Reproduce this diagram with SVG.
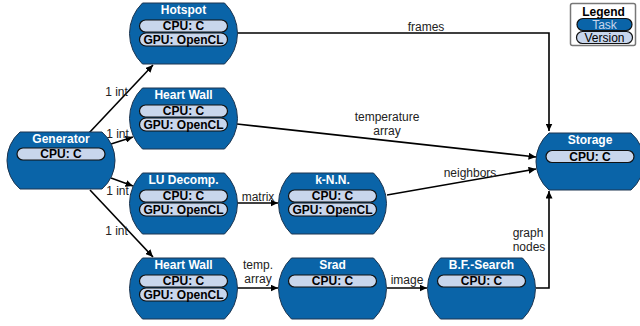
<svg xmlns="http://www.w3.org/2000/svg" width="640" height="326" viewBox="0 0 640 326">
<defs>
<marker id="arr" markerUnits="userSpaceOnUse" markerWidth="8" markerHeight="7" refX="7.5" refY="3.5" orient="auto">
<path d="M0,0 L7.5,3.5 L0,7 z" fill="#000"/>
</marker>
<style>
.node{fill:#0a64a8;stroke:#1c3550;stroke-width:1}
.pill{fill:#c8d6ec;stroke:#111;stroke-width:1.2}
.title{font-family:"Liberation Sans",Arial,sans-serif;font-size:12px;font-weight:bold;fill:#fff;text-anchor:middle}
.ver{font-family:"Liberation Sans",Arial,sans-serif;font-size:12px;font-weight:bold;fill:#000;text-anchor:middle}
.edge{fill:none;stroke:#000;stroke-width:1.6;marker-end:url(#arr)}
.lbl{font-family:"Liberation Sans",Arial,sans-serif;font-size:12px;fill:#222;text-anchor:middle}
</style>
</defs>
<rect width="640" height="326" fill="#fff"/>

<g id="connectors">
<path class="edge" d="M89,133 L153,65"/>
<path class="edge" d="M111,144 L133,137"/>
<path class="edge" d="M111,178 L133,186"/>
<path class="edge" d="M90,190 L153,257"/>
<path class="edge" d="M237,33 H549 V131"/>
<path class="edge" d="M237,124 L536,157"/>
<path class="edge" d="M387,195 L536,169"/>
<path class="edge" d="M237,203 L278,203"/>
<path class="edge" d="M237,288 L278,288"/>
<path class="edge" d="M387,288 L427,288"/>
<path class="edge" d="M536,288 H549 V191"/>
<text class="lbl" x="116.5" y="96">1 int</text>
<text class="lbl" x="117.5" y="138">1 int</text>
<text class="lbl" x="117.5" y="195">1 int</text>
<text class="lbl" x="116.5" y="235">1 int</text>
<text class="lbl" x="426" y="31">frames</text>
<text class="lbl" x="387" y="121">temperature</text>
<text class="lbl" x="387" y="135">array</text>
<text class="lbl" x="470" y="177">neighbors</text>
<text class="lbl" x="258" y="201">matrix</text>
<text class="lbl" x="258" y="269">temp.</text>
<text class="lbl" x="258" y="283">array</text>
<text class="lbl" x="407" y="284">image</text>
<text class="lbl" x="528" y="237">graph</text>
<text class="lbl" x="529" y="251">nodes</text>
</g>

<g id="hotspot">
<path class="node" d="M142.5,3 H224.5 A42.3,42.3 0 0 1 224.5,64 H142.5 A42.3,42.3 0 0 1 142.5,3 Z"/>
<text class="title" x="183.5" y="13.5">Hotspot</text>
<rect class="pill" x="139.5" y="20" width="88" height="12" rx="6"/>
<text class="ver" x="183.5" y="30">CPU: C</text>
<rect class="pill" x="139.5" y="33" width="88" height="13" rx="6.5"/>
<text class="ver" x="183.5" y="43.5">GPU: OpenCL</text>
</g>

<g id="heartwall1">
<path class="node" d="M142.5,88 H224.5 A42.3,42.3 0 0 1 224.5,149 H142.5 A42.3,42.3 0 0 1 142.5,88 Z"/>
<text class="title" x="183.5" y="98.5">Heart Wall</text>
<rect class="pill" x="139.5" y="105" width="88" height="12" rx="6"/>
<text class="ver" x="183.5" y="115">CPU: C</text>
<rect class="pill" x="139.5" y="118" width="88" height="13" rx="6.5"/>
<text class="ver" x="183.5" y="128.5">GPU: OpenCL</text>
</g>

<g id="generator">
<path class="node" d="M20,132 H102 A37.7,37.7 0 0 1 102,189 H20 A37.7,37.7 0 0 1 20,132 Z"/>
<text class="title" x="61" y="142.5">Generator</text>
<rect class="pill" x="17" y="148" width="88" height="12" rx="6"/>
<text class="ver" x="61" y="158">CPU: C</text>
</g>

<g id="ludecomp">
<path class="node" d="M142.5,173 H224.5 A42.3,42.3 0 0 1 224.5,234 H142.5 A42.3,42.3 0 0 1 142.5,173 Z"/>
<text class="title" x="183.5" y="183.5">LU Decomp.</text>
<rect class="pill" x="139.5" y="190" width="88" height="12" rx="6"/>
<text class="ver" x="183.5" y="200">CPU: C</text>
<rect class="pill" x="139.5" y="203" width="88" height="13" rx="6.5"/>
<text class="ver" x="183.5" y="213.5">GPU: OpenCL</text>
</g>

<g id="knn">
<path class="node" d="M291.5,173 H373.5 A42.3,42.3 0 0 1 373.5,234 H291.5 A42.3,42.3 0 0 1 291.5,173 Z"/>
<text class="title" x="332.5" y="183.5">k-N.N.</text>
<rect class="pill" x="288.5" y="190" width="88" height="12" rx="6"/>
<text class="ver" x="332.5" y="200">CPU: C</text>
<rect class="pill" x="288.5" y="203" width="88" height="13" rx="6.5"/>
<text class="ver" x="332.5" y="213.5">GPU: OpenCL</text>
</g>

<g id="heartwall2">
<path class="node" d="M142.5,258 H224.5 A42.3,42.3 0 0 1 224.5,319 H142.5 A42.3,42.3 0 0 1 142.5,258 Z"/>
<text class="title" x="183.5" y="268.5">Heart Wall</text>
<rect class="pill" x="139.5" y="275" width="88" height="12" rx="6"/>
<text class="ver" x="183.5" y="285">CPU: C</text>
<rect class="pill" x="139.5" y="288" width="88" height="13" rx="6.5"/>
<text class="ver" x="183.5" y="298.5">GPU: OpenCL</text>
</g>

<g id="srad">
<path class="node" d="M291.5,258 H373.5 A42.3,42.3 0 0 1 373.5,319 H291.5 A42.3,42.3 0 0 1 291.5,258 Z"/>
<text class="title" x="332.5" y="268.5">Srad</text>
<rect class="pill" x="288.5" y="275" width="88" height="12" rx="6"/>
<text class="ver" x="332.5" y="285">CPU: C</text>
</g>

<g id="bfsearch">
<path class="node" d="M440.5,258 H522.5 A42.3,42.3 0 0 1 522.5,319 H440.5 A42.3,42.3 0 0 1 440.5,258 Z"/>
<text class="title" x="481.5" y="268.5">B.F.-Search</text>
<rect class="pill" x="437.5" y="275" width="88" height="12" rx="6"/>
<text class="ver" x="481.5" y="285">CPU: C</text>
</g>

<g id="storage">
<path class="node" d="M549,133 H631 A37.7,37.7 0 0 1 631,190 H549 A37.7,37.7 0 0 1 549,133 Z"/>
<text class="title" x="590" y="143.5">Storage</text>
<rect class="pill" x="546" y="150.5" width="88" height="12" rx="6"/>
<text class="ver" x="590" y="160.5">CPU: C</text>
</g>

<g id="legend">
<rect x="570.5" y="3.5" width="65" height="42" rx="2" fill="#fff" stroke="#777" stroke-width="1.5"/>
<text x="603.5" y="15.5" font-family="'Liberation Sans',Arial,sans-serif" font-size="12" font-weight="bold" fill="#000" text-anchor="middle">Legend</text>
<rect x="577" y="18.5" width="55" height="12" rx="6" fill="#0a64a8" stroke="#111" stroke-width="1.2"/>
<text x="604.5" y="28.5" font-family="'Liberation Sans',Arial,sans-serif" font-size="12" fill="#c8d6ec" text-anchor="middle">Task</text>
<rect x="576.5" y="31.5" width="56" height="12" rx="6" fill="#c8d6ec" stroke="#111" stroke-width="1.2"/>
<text x="604.5" y="41.5" font-family="'Liberation Sans',Arial,sans-serif" font-size="12" fill="#000" text-anchor="middle">Version</text>
</g>
</svg>
